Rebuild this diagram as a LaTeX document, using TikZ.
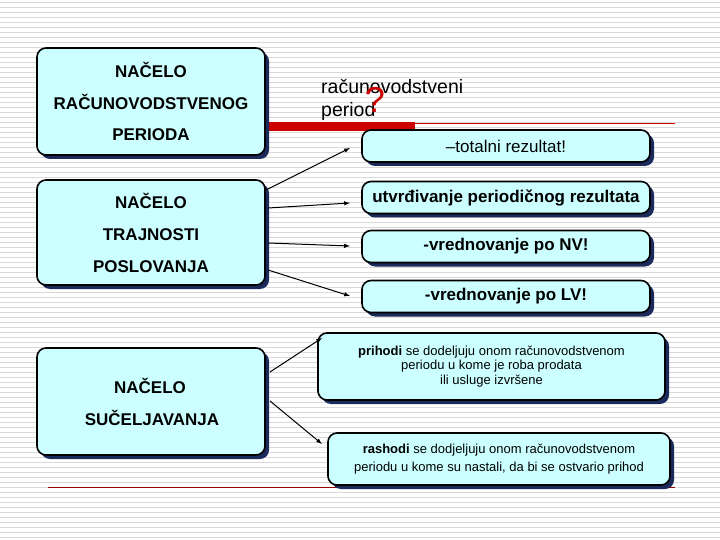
\documentclass[tikz,border=0pt]{standalone}
\usepackage{fontspec}
\setmainfont{Liberation Sans}
\usetikzlibrary{shadows}
\definecolor{boxfill}{HTML}{CCFFFF}
\definecolor{shad}{HTML}{1A2A5A}
\definecolor{redbar}{HTML}{CC0000}
\definecolor{darkred}{HTML}{990000}
\begin{document}
\begin{tikzpicture}[x=1pt,y=-1pt,
  box/.style={draw=black,line width=1.6pt,fill=boxfill,rounded corners=9pt,
    drop shadow={shadow xshift=4pt,shadow yshift=-4pt,fill=shad,opacity=1},
    align=center,inner sep=2pt},
  arr/.style={-latex,line width=1pt}]
\useasboundingbox (0,0) rectangle (720,540);
\fill[white] (0,0) rectangle (720,540);
\foreach \y in {2,7,...,540} \draw[black!15,line width=0.6pt] (0,\y) -- (720,\y);
% red bars
\fill[redbar] (265,122) rectangle (415,131);
\draw[redbar,line width=0.6pt] (415,123) -- (675,123);
\draw[darkred,line width=0.6pt] (48,487) -- (675,487);
% left boxes
\node[box,minimum width=228pt,minimum height=107pt,font=\bfseries\fontsize{17}{31.5}\selectfont] (b1) at (151,101.5)
  {NAČELO\\RAČUNOVODSTVENOG\\PERIODA};
\node[box,minimum width=228pt,minimum height=105pt,font=\bfseries\fontsize{17}{32}\selectfont] (b2) at (151,232.5)
  {NAČELO\\TRAJNOSTI\\POSLOVANJA};
\node[box,minimum width=228pt,minimum height=107pt] (b3) at (151,401.5) {};
\node[font=\bfseries\fontsize{17}{20}\selectfont] (t3a) at (150,386) {NAČELO};
\node[font=\bfseries\fontsize{17}{20}\selectfont] (t3b) at (152,418) {SUČELJAVANJA};
% right boxes
\tikzset{rb/.style={box,minimum width=288pt,minimum height=32pt,font=\bfseries\fontsize{17}{20}\selectfont}}
\node[rb,font=\fontsize{17}{20}\selectfont] (r1) at (506,146) {–totalni rezultat!};
\node[rb] (r2) at (506,197.5) {utvrđivanje periodičnog rezultata};
\node[rb] (r3) at (506,246.5) {-vrednovanje po NV!};
\node[rb] (r4) at (506,296.5) {-vrednovanje po LV!};
\node[box,minimum width=347pt,minimum height=67pt,font=\fontsize{13}{14.5}\selectfont] (r5) at (491.5,366.5)
  {\textbf{prihodi} se dodeljuju onom računovodstvenom\\periodu u kome je roba prodata\\ili usluge izvršene};
\node[box,minimum width=342pt,minimum height=52pt,font=\fontsize{13}{18}\selectfont] (r6) at (499,459)
  {\textbf{rashodi} se dodjeljuju onom računovodstvenom\\periodu u kome su nastali, da bi se ostvario prihod};
% title text
\node[anchor=west,align=left,font=\fontsize{19.5}{23}\selectfont,inner sep=0] (rp) at (321,100)
  {računovodstveni\\period};
\node[text=redbar,font=\fontsize{36}{36}\selectfont] (q) at (375,100) {?};
% arrows
\coordinate (a1) at (350,148);
\coordinate (a2) at (350,203);
\coordinate (a3) at (350,246);
\coordinate (a4) at (350,296);
\draw[arr] (266,190) -- (a1);
\draw[arr] (268,208) -- (a2);
\draw[arr] (268,243) -- (a3);
\draw[arr] (268,270) -- (a4);
\draw[arr] (270,372) -- (322,338);
\draw[arr] (270,401) -- (322,444);
\end{tikzpicture}
\end{document}
